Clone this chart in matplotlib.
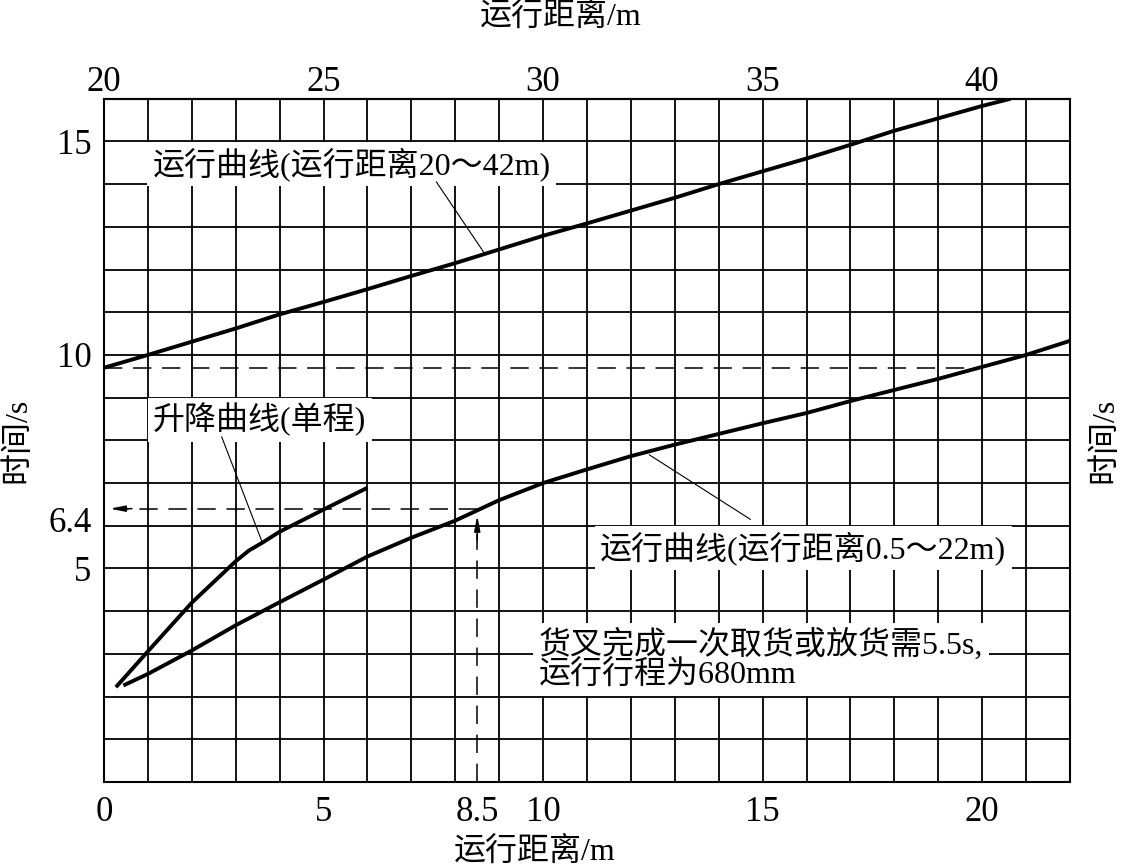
import numpy as np
import matplotlib.pyplot as plt
from matplotlib.transforms import ScaledTranslation

plt.rcParams['font.family'] = ['Liberation Serif', 'Noto Sans CJK SC', 'DejaVu Sans']

# 运行曲线 (运行距离0.5~22m), 下轴
lower_x = [0.44, 1, 2, 3, 4, 5, 6, 7, 8, 8.5, 9, 10, 11, 12, 13, 14, 15, 16, 17, 18, 19, 20, 21, 22]
lower_t = [2.26, 2.53, 3.08, 3.67, 4.21, 4.74, 5.28, 5.72, 6.12, 6.36, 6.6, 7.0, 7.32, 7.63, 7.9,
           8.15, 8.4, 8.64, 8.92, 9.18, 9.44, 9.72, 10.0, 10.33]

# 升降曲线 (单程)
lift_x = [0.27, 1, 2, 3, 3.3, 3.6, 4, 5, 6]
lift_t = [2.22, 3.06, 4.2, 5.17, 5.42, 5.6, 5.86, 6.38, 6.89]

# 运行曲线 (运行距离20~42m), 上轴
upper_x = [20, 21, 22, 23, 24, 25, 26, 27, 28, 29, 30, 31, 32, 33, 34, 35, 36, 37, 38, 39, 40, 40.65]
upper_t = [9.7, 10.0, 10.31, 10.62, 10.95, 11.24, 11.54, 11.85, 12.15, 12.47, 12.79, 13.08, 13.38,
           13.68, 14.0, 14.3, 14.6, 14.92, 15.25, 15.54, 15.83, 16.0]

bottom_ticks = [0, 5, 8.5, 10, 15, 20]
top_ticks = [20, 25, 30, 35, 40]
left_ticks = [5, 6.4, 10, 15]

fig = plt.figure(figsize=(11.21, 8.68), dpi=100)
ax = fig.add_axes([0.0928, 0.0991, 0.8617, 0.7872])
ax.set_xlim(0, 22)
ax.set_ylim(0, 16)

# 网格
for gx in range(1, 22):
    ax.axvline(gx, color='black', lw=1.3, zorder=1)
for gy in range(1, 16):
    ax.axhline(gy, color='black', lw=1.3, zorder=1)
for s in ax.spines.values():
    s.set_linewidth(1.5)

# 曲线
curve = dict(color='black', lw=2.8, zorder=4, solid_capstyle='butt', solid_joinstyle='round')
ax.plot(lower_x, lower_t, **curve)
ax.plot(lift_x, lift_t, **curve)
ax.plot(np.array(upper_x) - 20, upper_t, **curve)

# 虚线
dash = (0, (12, 7))
ax.plot([0, 20], [upper_t[0], upper_t[0]], color='black', lw=1.1, linestyle=dash, zorder=3)
ax.plot([8.5, 0.5], [6.4, 6.4], color='black', lw=1.1, linestyle=dash, zorder=3)
ax.plot([8.5, 8.5], [0, 5.8], color='black', lw=1.1, linestyle=dash, zorder=3)
ax.annotate('', xy=(0.07, 6.4), xytext=(0.7, 6.4),
            arrowprops=dict(arrowstyle='-|>,head_length=0.9,head_width=0.18', color='black', lw=1.1),
            zorder=5)
ax.annotate('', xy=(8.5, 6.3), xytext=(8.5, 5.6),
            arrowprops=dict(arrowstyle='-|>,head_length=0.9,head_width=0.18', color='black', lw=1.1),
            zorder=5)

# 标注
fs = 23
box = dict(facecolor='white', edgecolor='none', pad=4)
ax.text(1.1, 14.47, '运行曲线(运行距离20～42m)', fontsize=fs, ha='left', va='center', bbox=box, zorder=6)
ax.plot([7.57, 8.65], [14.05, 12.4], color='black', lw=0.8, zorder=6)

ax.text(1.12, 8.48, '升降曲线(单程)', fontsize=fs, ha='left', va='center', bbox=box, zorder=6)
ax.plot([2.68, 3.6], [8.08, 5.62], color='black', lw=0.8, zorder=6)

ax.text(11.3, 5.48, '运行曲线(运行距离0.5～22m)', fontsize=fs, ha='left', va='center', bbox=box, zorder=6)
ax.plot([12.42, 14.72], [7.66, 6.15], color='black', lw=0.8, zorder=6)

ax.text(9.9, 2.86, '货叉完成一次取货或放货需5.5s,\n运行行程为680mm', fontsize=fs, ha='left',
        va='center', linespacing=1.0, bbox=box, zorder=6)

# 坐标轴
ax.set_xticks(bottom_ticks)
ax.set_xticklabels([str(v) for v in bottom_ticks])
ax.set_yticks(left_ticks)
ax.set_yticklabels([str(v) for v in left_ticks])
ax.tick_params(axis='x', length=0, labelsize=25, pad=10)
ax.tick_params(axis='y', length=0, labelsize=25, pad=9)
for lbl in ax.get_yticklabels():
    if lbl.get_text() == '6.4':
        lbl.set_transform(lbl.get_transform() + ScaledTranslation(0, -8 / 72, fig.dpi_scale_trans))

top = ax.secondary_xaxis('top', functions=(lambda x: x + 20, lambda x: x - 20))
top.set_xticks(top_ticks)
top.tick_params(length=0, labelsize=25, pad=0)
top.spines['top'].set_linewidth(1.5)

fig.text(561 / 1121, 1 - 17 / 868, '运行距离/m', fontsize=fs, ha='center', va='center')
fig.text(535 / 1121, 1 - 852 / 868, '运行距离/m', fontsize=fs, ha='center', va='center')
fig.text(18 / 1121, 1 - 440 / 868, '时间/s', fontsize=fs, rotation=90, ha='center', va='center')
fig.text(1105 / 1121, 1 - 440 / 868, '时间/s', fontsize=fs, rotation=90, ha='center', va='center')

fig.savefig('out.png', dpi=100)
